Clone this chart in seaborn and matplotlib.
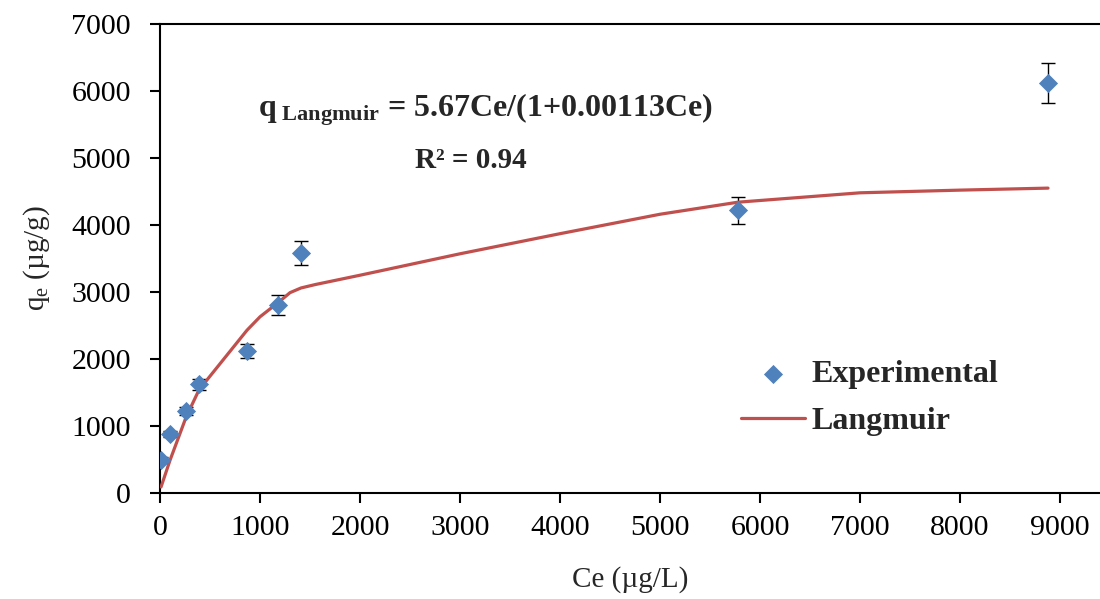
import pandas as pd
import matplotlib.pyplot as plt
import seaborn as sns

# experimental points
ce_exp = [10, 100, 260, 390, 870, 1180, 1410, 5780, 8880]
qe_exp = [490, 880, 1230, 1620, 2120, 2800, 3580, 4220, 6120]
qe_err = [40, 50, 60, 80, 100, 150, 180, 200, 300]

# Langmuir fit curve
ce_fit = [10, 100, 260, 390, 870, 1000, 1180, 1300, 1410, 1550, 2000, 3000, 4000, 5000, 5780, 7000, 8000, 8880]
qe_fit = [90, 490, 1130, 1540, 2430, 2630, 2840, 2990, 3060, 3110, 3250, 3570, 3870, 4160, 4340, 4480, 4520, 4550]

xticks = [0, 1000, 2000, 3000, 4000, 5000, 6000, 7000, 8000, 9000]
yticks = [0, 1000, 2000, 3000, 4000, 5000, 6000, 7000]

exp_df = pd.DataFrame({"Ce": ce_exp, "qe": qe_exp, "err": qe_err})
fit_df = pd.DataFrame({"Ce": ce_fit, "qe": qe_fit})

sns.set_style("white")
plt.rcParams["font.family"] = ["Liberation Serif", "DejaVu Serif"]
plt.rcParams["mathtext.fontset"] = "custom"
plt.rcParams["mathtext.rm"] = "Liberation Serif"
plt.rcParams["mathtext.it"] = "Liberation Serif:italic"
plt.rcParams["mathtext.bf"] = "Liberation Serif:bold"

fig = plt.figure(figsize=(11, 5.99), dpi=100)
ax = fig.add_axes([0.1455, 0.177, 0.8545, 0.783])

blue = "#4F81BD"
red = "#C0504D"

ax.errorbar(exp_df["Ce"], exp_df["qe"], yerr=exp_df["err"], fmt="none",
            ecolor="black", elinewidth=1, capsize=5, capthick=1, zorder=2)
sns.lineplot(data=fit_df, x="Ce", y="qe", color=red, linewidth=2.3, ax=ax,
             label="Langmuir", zorder=3)
sns.scatterplot(data=exp_df, x="Ce", y="qe", marker="D", s=95, color=blue,
                edgecolor=blue, linewidth=0, ax=ax, label="Experimental", zorder=4)

ax.set_xlim(0, 9400)
ax.set_ylim(0, 7000)
ax.set_xticks(xticks)
ax.set_yticks(yticks)
ax.tick_params(axis="both", labelsize=21.5, direction="out", length=7, width=1.5,
               bottom=True, left=True, color="black", labelcolor="black")
ax.tick_params(axis="x", pad=9)
ax.tick_params(axis="y", pad=14)
for side in ["left", "bottom", "top"]:
    ax.spines[side].set_color("black")
    ax.spines[side].set_linewidth(1.5)
ax.spines["right"].set_visible(False)

ax.set_xlabel("Ce (µg/L)", fontsize=21, labelpad=18)
ax.set_ylabel(r"q$_\mathrm{e}$ (µg/g)", fontsize=21, labelpad=14)

ax.text(0.104, 0.818, r"$\mathbf{q}_{\mathbf{\ Langmuir}}$ = 5.67Ce/(1+0.00113Ce)",
        transform=ax.transAxes, fontsize=23, fontweight="bold", va="center", ha="left")
ax.text(0.331, 0.708, "R² = 0.94", transform=ax.transAxes, fontsize=21,
        fontweight="bold", va="center", ha="center")

handles, labels = ax.get_legend_handles_labels()
order = [labels.index("Experimental"), labels.index("Langmuir")]
ax.legend([handles[i] for i in order], [labels[i] for i in order],
          loc="center left", bbox_to_anchor=(0.588, 0.203), frameon=False,
          prop={"size": 23, "weight": "bold"}, handlelength=2.0,
          handletextpad=0.2, labelspacing=0.55)

plt.savefig("out.png", dpi=100)
